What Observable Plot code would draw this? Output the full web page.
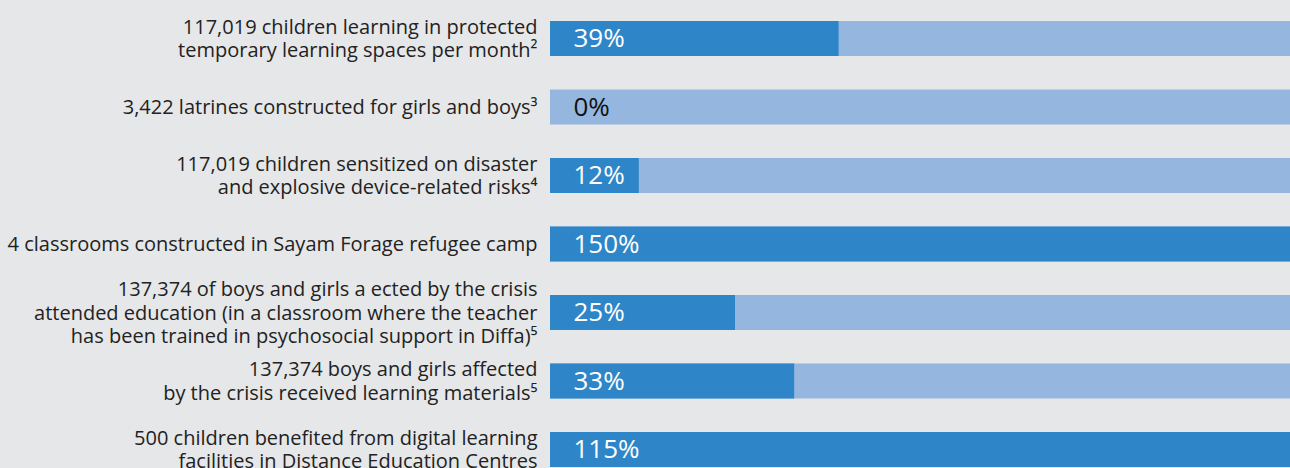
<!DOCTYPE html>
<html>
<head>
<meta charset="utf-8">
<script src="https://cdn.jsdelivr.net/npm/d3@7"></script>
<script src="https://cdn.jsdelivr.net/npm/@observablehq/plot@0.6"></script>
<style>
  html, body { margin: 0; padding: 0; background: #e6e7e9; }
  #chart { width: 1290px; height: 468px; overflow: hidden; }
</style>
</head>
<body>
<div id="chart"></div>
<script>
const labels = [
  "117,019 children learning in protected\ntemporary learning spaces per month²",
  "3,422 latrines constructed for girls and boys³",
  "117,019 children sensitized on disaster\nand explosive device-related risks⁴",
  "4 classrooms constructed in Sayam Forage refugee camp",
  "137,374 of boys and girls a ected by the crisis\nattended education (in a classroom where the teacher\nhas been trained in psychosocial support in Diffa)⁵",
  "137,374 boys and girls affected\nby the crisis received learning materials⁵",
  "500 children benefited from digital learning\nfacilities in Distance Education Centres"
];
const values = [39, 0, 12, 150, 25, 33, 115];
const target = 100;

const data = labels.map((label, i) => ({label, value: values[i], shown: Math.min(values[i], target)}));

const chart = Plot.plot({
  width: 1290,
  height: 468,
  marginLeft: 550,
  marginRight: 0,
  marginTop: 21,
  marginBottom: 1,
  style: {background: "#e6e7e9", fontFamily: "Open Sans"},
  x: {domain: [0, target], axis: null},
  y: {domain: labels, paddingInner: 0.489, paddingOuter: 0, round: false, axis: null},
  marks: [
    Plot.barX(data, {y: "label", x1: 0, x2: target, fill: "#95b7df"}),
    Plot.barX(data, {y: "label", x1: 0, x2: "shown", fill: "#2e86c8"}),
    Plot.text(data, {
      y: "label", x: 0, dx: 23, text: d => `${d.value}%`, textAnchor: "start",
      fill: d => d.value > 0 ? "#ffffff" : "#111111",
      fontSize: 26, fontFamily: "Open Sans"
    }),
    Plot.text(data, {
      y: "label", x: 0, dx: -13, dy: -1, text: "label", textAnchor: "end",
      lineAnchor: "middle", lineHeight: 1.18, fill: "#222222",
      fontSize: 20, fontFamily: "Open Sans"
    })
  ]
});
document.getElementById("chart").appendChild(chart);
</script>
</body>
</html>
